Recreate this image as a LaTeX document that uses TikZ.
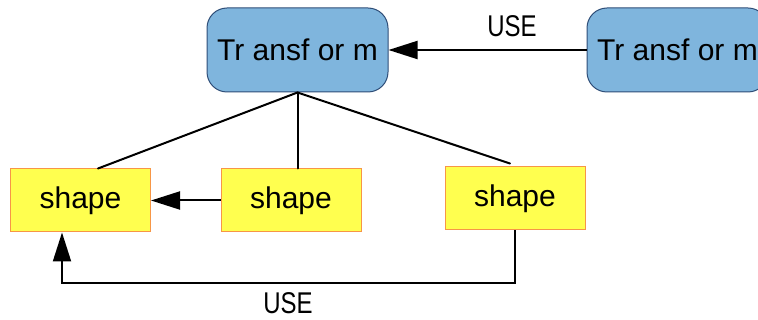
\documentclass[tikz,border=0pt]{standalone}
\usepackage{fontspec}
\setmainfont{Liberation Sans}
\usetikzlibrary{arrows.meta,calc}
\definecolor{tfill}{HTML}{7FB5DD}
\definecolor{tdraw}{HTML}{2F4E78}
\definecolor{sfill}{HTML}{FFFF4F}
\definecolor{sdraw}{HTML}{F79646}
\tikzset{
  tbox/.style={draw=tdraw, fill=tfill, line width=1pt, rounded corners=20pt,
    minimum width=181pt, minimum height=84pt, inner sep=0pt,
    font=\fontsize{30}{30}\selectfont},
  sbox/.style={draw=sdraw, fill=sfill, line width=1pt,
    minimum width=140pt, minimum height=63pt, inner sep=0pt,
    font=\fontsize{30}{30}\selectfont},
  link/.style={line width=2pt, line cap=round},
  usearrow/.style={line width=2pt, -{Triangle[length=29pt,width=18pt]}},
  uselabel/.style={font=\fontsize{30}{30}\selectfont, inner sep=0pt}
}
\begin{document}
\begin{tikzpicture}[x=1pt,y=-1pt]
\useasboundingbox (0,0) rectangle (758,320);
\clip (0,0) rectangle (758,320);
\fill[white] (0,0) rectangle (758,320);

\node[tbox] (t1) at (297.5,50) {Tr ansf or m};
\node[tbox] (t2) at (677.5,50) {Tr ansf or m};

\node[sbox] (s1) at (80.5,200.5) {shape};
\node[sbox] (s2) at (291,200.5) {shape};
\node[sbox] (s3) at (515,198.5) {shape};

% composition links from the top transform
\draw[link] (t1.south) -- ($(s1.north)+(17.5,0)$);
\draw[link] (t1.south) -- (t1.south |- s2.north);
\draw[link] (t1.south) -- ($(s3.north)+(-5,-3)$);

% USE relations
\draw[usearrow] (t2.west) -- (t1.east);
\node[uselabel] (u1) at (512,26) {\scalebox{0.8}[1]{USE}};

\draw[usearrow] (s2.west) -- (s1.east);

\coordinate (bend) at (62,283);
\draw[usearrow] (s3.south) |- (bend) -- ($(s1.south)+(-18.5,0)$);
\node[uselabel] (u2) at (288,303) {\scalebox{0.8}[1]{USE}};
\end{tikzpicture}
\end{document}
